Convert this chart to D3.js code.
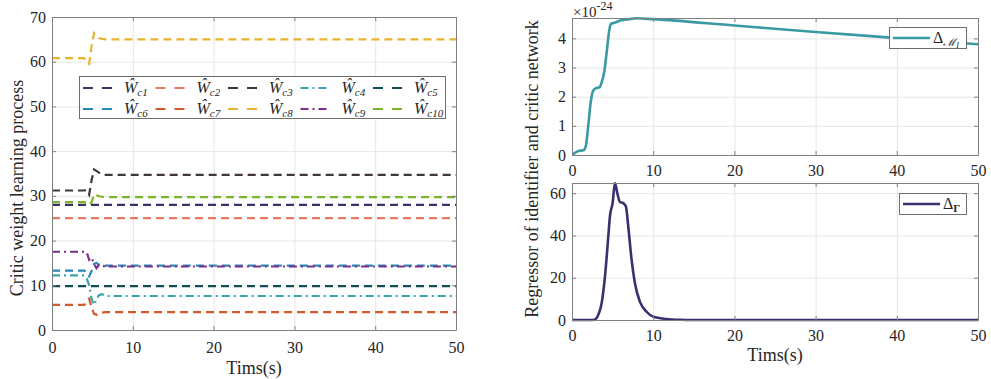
<!DOCTYPE html>
<html><head><meta charset="utf-8">
<script src="https://cdn.jsdelivr.net/npm/d3@7"></script>
<style>body{margin:0;background:#fff} svg{display:block} text{font-family:'Liberation Serif','Times New Roman',serif;}</style>
</head><body><svg id="c" width="991" height="379"></svg>
<script>
// ---------- data ----------
const timeW = [0, 4.0, 4.3, 4.6, 4.9, 5.2, 5.5, 5.8, 6.2, 6.6, 7.0, 50];
const seriesLabels = ["c1","c2","c3","c4","c5","c6","c7","c8","c9","c10"];
const wc1  = [28.0, 28.0, 28.0, 28.0, 28.0, 28.0, 28.0, 28.0, 28.0, 28.0, 28.0, 28.0];
const wc2  = [25.0, 25.0, 25.0, 25.0, 25.0, 25.0, 25.0, 25.0, 25.0, 25.0, 25.0, 25.0];
const wc3  = [31.2, 31.2, 31.4, 30.3, 33.5, 35.9, 35.6, 35.2, 34.8, 34.7, 34.7, 34.7];
const wc4  = [12.2, 12.2, 11.5, 10.0, 7.0, 5.6, 6.8, 7.8, 8.0, 7.7, 7.6, 7.6];
const wc5  = [9.8, 9.8, 9.8, 9.8, 9.8, 9.8, 9.8, 9.8, 9.8, 9.8, 9.8, 9.8];
const wc6  = [13.3, 13.3, 12.8, 12.0, 13.2, 14.8, 15.0, 14.6, 14.5, 14.4, 14.4, 14.4];
const wc7  = [5.6, 5.6, 6.5, 7.0, 5.0, 3.6, 3.4, 3.7, 3.9, 4.0, 4.0, 4.0];
const wc8  = [60.8, 60.8, 59.8, 59.5, 63.5, 66.4, 65.8, 65.3, 65.1, 65.0, 65.0, 65.0];
const wc9  = [17.5, 17.5, 17.4, 15.7, 16.2, 14.8, 13.8, 14.5, 14.4, 14.2, 14.2, 14.2];
const wc10 = [28.6, 28.6, 28.4, 28.0, 28.6, 30.3, 30.2, 29.9, 29.8, 29.7, 29.7, 29.7];
const seriesW = [wc1, wc2, wc3, wc4, wc5, wc6, wc7, wc8, wc9, wc10];
const colorsW = ["#3b3169","#e87a5f","#41363a","#3ba3ad","#124d56","#2a88b8","#d35a2c","#e9b32f","#7c2f8a","#7bb52a"];
const dashDot = [false,false,false,true,false,false,false,false,true,false];

const timeM  = [0, 0.4, 0.8, 1.4, 1.7, 2.0, 2.3, 2.6, 3.0, 3.4, 3.6, 4.0, 4.3, 4.6, 4.8, 5.0, 5.5, 6.0, 6.5, 7.0, 8.0, 10, 20, 30, 40, 50];
const deltaM = [0, 0.08, 0.14, 0.16, 0.3, 1.0, 1.8, 2.2, 2.3, 2.32, 2.45, 2.9, 3.6, 4.3, 4.5, 4.52, 4.56, 4.62, 4.64, 4.66, 4.69, 4.66, 4.44, 4.22, 4.01, 3.80];

const timeG  = [0, 2.6, 3.0, 3.3, 3.65, 4.06, 4.47, 4.67, 5.0, 5.29, 5.58, 5.9, 6.3, 6.64, 6.93, 7.34, 7.75, 8.36, 9.18, 10, 11.6, 13.3, 15, 50];
const deltaG = [0, 0, 0.8, 3, 7.9, 20.5, 39.5, 49, 55.3, 64.8, 60, 55.8, 55.3, 53.7, 44.2, 28.4, 17.4, 8.7, 3.9, 1.6, 0.5, 0.1, 0, 0];

const xTicks = [0, 10, 20, 30, 40, 50];
const yTicksW = [0, 10, 20, 30, 40, 50, 60, 70];
const yTicksM = [0, 1, 2, 3, 4];
const yTicksG = [0, 20, 40, 60];

// ---------- drawing ----------
const svg = d3.select("#c");
const FONT = "'Liberation Serif','Times New Roman',serif";
const AX = "#808080", TXT = "#262626", GRID = "#e6e6e6";
const fmt = d3.format("d");

function panel(cfg) {
  const x = d3.scaleLinear().domain([0, 50]).range([cfg.x0, cfg.x1]);
  const y = d3.scaleLinear().domain(cfg.yDomain).range([cfg.y1, cfg.y0]);
  const h = cfg.y1 - cfg.y0, w = cfg.x1 - cfg.x0;
  svg.append("g").attr("transform", `translate(0,${cfg.y1})`)
    .call(d3.axisBottom(x).tickValues(xTicks).tickSize(-h).tickFormat(""))
    .call(g => { g.select(".domain").remove(); g.selectAll("line").attr("stroke", GRID); });
  svg.append("g").attr("transform", `translate(${cfg.x0},0)`)
    .call(d3.axisLeft(y).tickValues(cfg.yTicks).tickSize(-w).tickFormat(""))
    .call(g => { g.select(".domain").remove(); g.selectAll("line").attr("stroke", GRID); });
  const id = "clip" + cfg.name;
  svg.append("clipPath").attr("id", id).append("rect")
    .attr("x", cfg.x0).attr("y", cfg.y0 - 2).attr("width", w).attr("height", h + 4);
  const plot = svg.append("g").attr("clip-path", `url(#${id})`);
  const style = g => {
    g.attr("font-family", FONT).attr("font-size", 16);
    g.select(".domain").attr("stroke", AX);
    g.selectAll(".tick line").attr("stroke", AX);
    g.selectAll(".tick text").style("font-family", FONT).style("font-size", "16px").attr("fill", TXT);
  };
  svg.append("g").attr("transform", `translate(0,${cfg.y1})`)
    .call(d3.axisBottom(x).tickValues(xTicks).tickSize(-4).tickSizeOuter(0).tickPadding(cfg.xPad).tickFormat(fmt)).call(style);
  svg.append("g").attr("transform", `translate(0,${cfg.y0})`)
    .call(d3.axisTop(x).tickValues(xTicks).tickSize(-4).tickSizeOuter(0).tickFormat("")).call(style);
  svg.append("g").attr("transform", `translate(${cfg.x0},0)`)
    .call(d3.axisLeft(y).tickValues(cfg.yTicks).tickSize(-4).tickSizeOuter(0).tickPadding(6).tickFormat(fmt)).call(style);
  svg.append("g").attr("transform", `translate(${cfg.x1},0)`)
    .call(d3.axisRight(y).tickValues(cfg.yTicks).tickSize(-4).tickSizeOuter(0).tickFormat("")).call(style);
  return {x, y, plot};
}

// Left panel
const L = panel({name: "W", x0: 52, x1: 456, y0: 17, y1: 330, yDomain: [0, 70], yTicks: yTicksW, xPad: 12});
seriesW.forEach((vals, i) => {
  const line = d3.line().x((d, k) => L.x(timeW[k])).y(d => L.y(d));
  L.plot.append("path").datum(vals).attr("d", line)
    .attr("fill", "none").attr("stroke", colorsW[i]).attr("stroke-width", 2.2)
    .attr("stroke-dasharray", dashDot[i] ? "8,4,2,4" : "8,5");
});

// Right top
const T = panel({name: "M", x0: 572, x1: 978, y0: 18, y1: 155, yDomain: [0, 4.7], yTicks: yTicksM, xPad: 10});
T.plot.append("path").datum(deltaM)
  .attr("d", d3.line().x((d, k) => T.x(timeM[k])).y(d => T.y(d)).curve(d3.curveMonotoneX))
  .attr("fill", "none").attr("stroke", "#3a9aa3").attr("stroke-width", 2.6);

// Right bottom
const B = panel({name: "G", x0: 572, x1: 978, y0: 183, y1: 320, yDomain: [0, 64.8], yTicks: yTicksG, xPad: 10});
B.plot.append("path").datum(deltaG)
  .attr("d", d3.line().x((d, k) => B.x(timeG[k])).y(d => B.y(d)).curve(d3.curveMonotoneX))
  .attr("fill", "none").attr("stroke", "#3b2f6f").attr("stroke-width", 2.6);

// exponent label
const ex = svg.append("text").attr("x", 573).attr("y", 17).attr("font-size", 15).attr("fill", TXT);
ex.append("tspan").text("×10");
ex.append("tspan").attr("font-size", 12).attr("dy", -7).text("-24");

// axis titles
svg.append("text").attr("transform", "translate(17,188) rotate(-90)").attr("text-anchor", "middle")
  .attr("dominant-baseline", "central").attr("font-size", 18).attr("fill", TXT)
  .text("Critic weight learning process");
svg.append("text").attr("transform", "translate(532,169) rotate(-90)").attr("text-anchor", "middle")
  .attr("dominant-baseline", "central").attr("font-size", 18).attr("fill", TXT)
  .text("Regressor of identifier and critic network");
svg.append("text").attr("x", 254).attr("y", 374).attr("text-anchor", "middle")
  .attr("font-size", 18).attr("fill", TXT).text("Tims(s)");
svg.append("text").attr("x", 775).attr("y", 361).attr("text-anchor", "middle")
  .attr("font-size", 18).attr("fill", TXT).text("Tims(s)");

// left legend
const lg = svg.append("g");
lg.append("rect").attr("x", 79.5).attr("y", 76.5).attr("width", 366).attr("height", 42)
  .attr("fill", "#fff").attr("stroke", "#6e6e6e").attr("stroke-width", 1);
seriesLabels.forEach((lab, i) => {
  const col = i % 5, row = Math.floor(i / 5);
  const lx = 83 + col * 72.5, ly = 88 + row * 21;
  lg.append("line").attr("x1", lx).attr("x2", lx + 30).attr("y1", ly).attr("y2", ly)
    .attr("stroke", colorsW[i]).attr("stroke-width", 2.2)
    .attr("stroke-dasharray", dashDot[i] ? "8,4,2,4" : "10,9");
  const t = lg.append("text").attr("x", lx + 41).attr("y", ly + 5)
    .attr("font-size", 16).attr("font-style", "italic").attr("fill", TXT);
  t.append("tspan").text("Ŵ");
  t.append("tspan").attr("font-size", 11).attr("dy", 3).text(lab);
});

// right legends
const r1 = svg.append("g");
r1.append("rect").attr("x", 889.5).attr("y", 27.5).attr("width", 77).attr("height", 21)
  .attr("fill", "#fff").attr("stroke", "#6e6e6e");
r1.append("line").attr("x1", 893).attr("x2", 930).attr("y1", 38).attr("y2", 38)
  .attr("stroke", "#3a9aa3").attr("stroke-width", 2.6);
const t1 = r1.append("text").attr("x", 933).attr("y", 43).attr("font-size", 16).attr("fill", TXT);
t1.append("tspan").text("Δ");
t1.append("tspan").attr("font-size", 11).attr("dy", 3).attr("font-style", "italic").text("ℳ");
t1.append("tspan").attr("font-size", 8).attr("dy", 2).attr("font-style", "italic").text("I");

const r2 = svg.append("g");
r2.append("rect").attr("x", 899.5).attr("y", 193.5).attr("width", 67).attr("height", 21)
  .attr("fill", "#fff").attr("stroke", "#6e6e6e");
r2.append("line").attr("x1", 903).attr("x2", 940).attr("y1", 204).attr("y2", 204)
  .attr("stroke", "#3b2f6f").attr("stroke-width", 2.6);
const t2 = r2.append("text").attr("x", 943).attr("y", 209).attr("font-size", 16).attr("fill", TXT);
t2.append("tspan").text("Δ");
t2.append("tspan").attr("font-size", 11).attr("dy", 3).attr("font-weight", "bold").text("Γ");
</script></body></html>
